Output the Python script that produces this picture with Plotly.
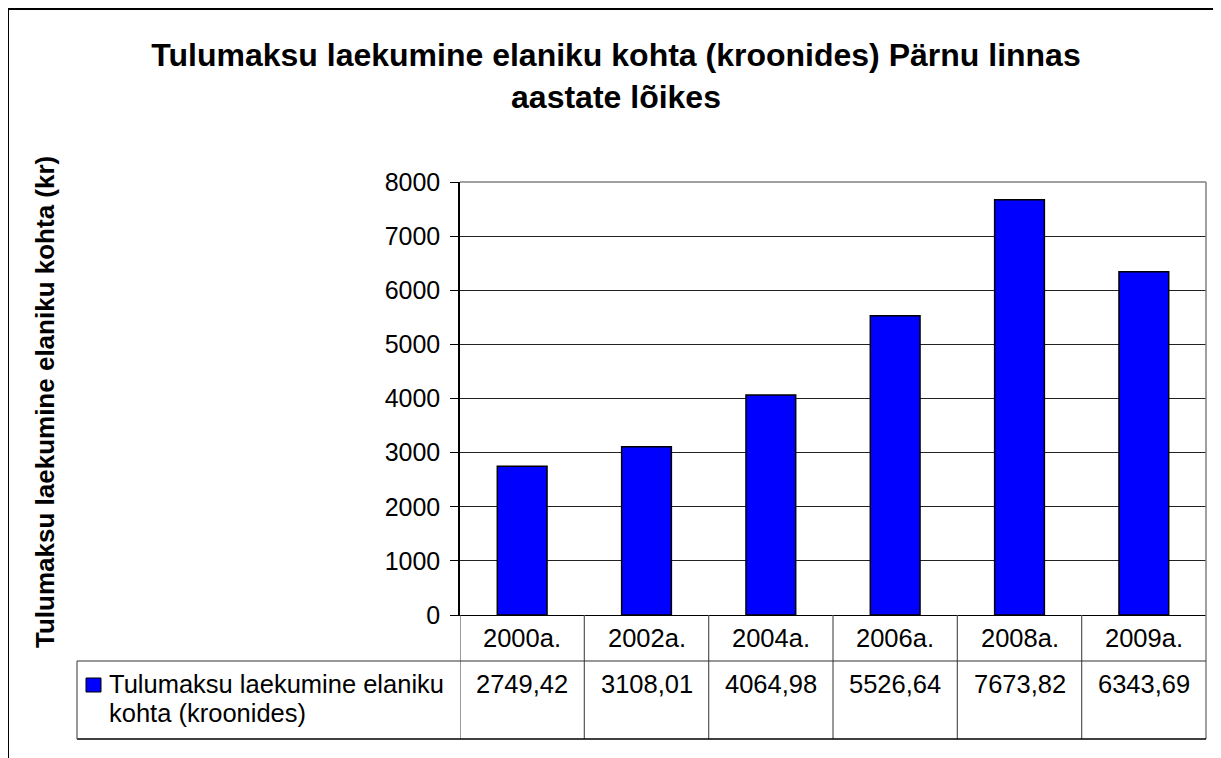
import plotly.graph_objects as go

# ---- data ----
categories = ["2000a.", "2002a.", "2004a.", "2006a.", "2008a.", "2009a."]
values = [2749.42, 3108.01, 4064.98, 5526.64, 7673.82, 6343.69]
series_name = "Tulumaksu laekumine elaniku kohta (kroonides)"
title_text = "Tulumaksu laekumine elaniku kohta (kroonides) Pärnu linnas<br>aastate lõikes"
y_title = "Tulumaksu laekumine elaniku kohta (kr)"
y_ticks = [0, 1000, 2000, 3000, 4000, 5000, 6000, 7000, 8000]

W, H = 1221, 758
OFF = 8  # page body margin
FONT = "Arial, 'Liberation Sans', sans-serif"


def px(x):
    return (x - OFF) / W


def py(y):
    return 1 - (y - OFF) / H


# plot area in pixels
PL, PR, PT, PB = 460, 1206, 182, 615
ROW1_B = 661   # bottom of category row
ROW2_B = 739   # bottom of value row
LEG_L = 77

fig = go.Figure()
fig.add_trace(go.Bar(
    x=categories, y=values, name=series_name,
    marker=dict(color="#0000FF", line=dict(color="#000000", width=1.5)),
    width=0.4, showlegend=False,
))

fig.update_layout(
    width=W, height=H, autosize=False,
    margin=dict(l=0, r=0, t=0, b=0, pad=0, autoexpand=False),
    showlegend=False,
    paper_bgcolor="white", plot_bgcolor="white",
    font=dict(family=FONT, color="black", size=25),
    title=dict(text="<b>" + title_text + "</b>", x=px(616), xanchor="center",
               xref="paper", yref="container", y=py(66), yanchor="top",
               font=dict(size=32, family=FONT, color="black")),
    xaxis=dict(domain=[px(PL), px(PR)], range=[-0.5, 5.5], showticklabels=False,
               ticks="", showgrid=False, showline=True, linecolor="#000000", linewidth=1,
               fixedrange=True, automargin=False),
    yaxis=dict(domain=[py(PB), py(PT)], range=[0, 8000], tickvals=y_ticks,
               ticktext=[str(v) for v in y_ticks],
               showgrid=True, gridcolor="#222222", gridwidth=1,
               showline=True, linecolor="#000000", linewidth=1.5,
               ticks="outside", ticklen=8, tickcolor="#000000",
               ticklabelstandoff=5,
               tickfont=dict(size=25, family=FONT, color="black"),
               zeroline=False, fixedrange=True, automargin=False),
    bargap=0.6,
)

shapes = []
# outer chart border
shapes.append(dict(type="rect", xref="paper", yref="paper",
                   x0=px(8), x1=px(1260), y0=py(820), y1=py(9),
                   line=dict(color="black", width=2), fillcolor="rgba(0,0,0,0)"))
# plot area top and right border (gray)
shapes.append(dict(type="line", xref="paper", yref="paper", x0=px(PL), x1=px(PR),
                   y0=py(PT), y1=py(PT), line=dict(color="#808080", width=1.5), layer="above"))
shapes.append(dict(type="line", xref="paper", yref="paper", x0=px(PR), x1=px(PR),
                   y0=py(PT), y1=py(ROW2_B), line=dict(color="#808080", width=1.5), layer="above"))
# table vertical lines at category boundaries
for i in range(len(categories)):
    shapes.append(dict(type="line", xref="x", yref="paper", x0=i - 0.5, x1=i - 0.5,
                       y0=py(PB), y1=py(ROW2_B), line=dict(color="#555555", width=1.2)))
# horizontal lines of table
shapes.append(dict(type="line", xref="paper", yref="paper", x0=px(LEG_L), x1=px(PR),
                   y0=py(ROW1_B), y1=py(ROW1_B), line=dict(color="#333333", width=1.2)))
shapes.append(dict(type="line", xref="paper", yref="paper", x0=px(LEG_L), x1=px(PR),
                   y0=py(ROW2_B), y1=py(ROW2_B), line=dict(color="#000000", width=1.5)))
shapes.append(dict(type="line", xref="paper", yref="paper", x0=px(LEG_L), x1=px(LEG_L),
                   y0=py(ROW1_B), y1=py(ROW2_B), line=dict(color="#555555", width=1.2)))
# legend key
shapes.append(dict(type="rect", xref="paper", yref="paper", x0=px(86), x1=px(101),
                   y0=py(692), y1=py(678), fillcolor="#0000FF",
                   line=dict(color="black", width=1)))
fig.update_layout(shapes=shapes)

annotations = []
for cat in categories:
    annotations.append(dict(x=cat, xref="x", y=py(638), yref="paper", text=cat,
                            showarrow=False, xanchor="center", yanchor="middle",
                            font=dict(size=25.5, family=FONT, color="black")))
for cat, v in zip(categories, values):
    annotations.append(dict(x=cat, xref="x", y=py(684), yref="paper",
                            text=f"{v:.2f}".replace(".", ","),
                            showarrow=False, xanchor="center", yanchor="middle",
                            font=dict(size=25.5, family=FONT, color="black")))
# legend label wrapped over two lines, as in the data table
words = series_name.split(" ")
legend_lines = [" ".join(words[:3]), " ".join(words[3:])]
for line, yc in zip(legend_lines, [684, 713]):
    annotations.append(dict(x=px(107), xref="paper", y=py(yc), yref="paper",
                            text=line, align="left",
                            showarrow=False, xanchor="left", yanchor="middle",
                            font=dict(size=25.5, family=FONT, color="black")))
annotations.append(dict(x=px(45), xref="paper", y=py(402), yref="paper",
                        text="<b>" + y_title + "</b>", textangle=-90,
                        showarrow=False, xanchor="center", yanchor="middle",
                        font=dict(size=26, family=FONT, color="black")))
fig.update_layout(annotations=annotations)

fig.write_html("out.html")
